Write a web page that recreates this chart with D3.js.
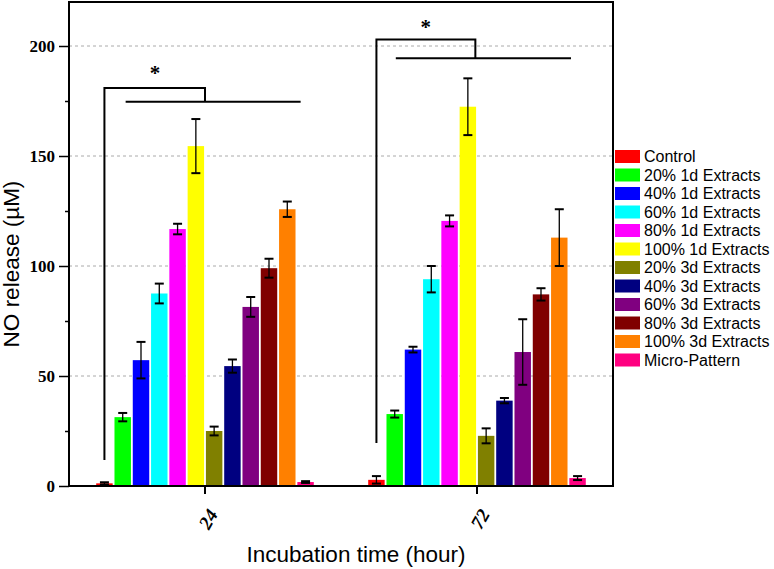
<!DOCTYPE html>
<html>
<head>
<meta charset="utf-8">
<script src="https://cdn.jsdelivr.net/npm/d3@7"></script>
<style>
  html, body { margin: 0; padding: 0; background: #fff; }
  svg { display: block; }
</style>
</head>
<body>
<svg id="chart" width="774" height="569"></svg>
<script>
// ---- Data ----
const times = ["24", "72"];
const series = ["Control", "20% 1d Extracts", "40% 1d Extracts", "60% 1d Extracts", "80% 1d Extracts",
  "100% 1d Extracts", "20% 3d Extracts", "40% 3d Extracts", "60% 3d Extracts", "80% 3d Extracts",
  "100% 3d Extracts", "Micro-Pattern"];
const colors = ["#ff0000", "#00ff00", "#0000ff", "#00ffff", "#ff00ff", "#ffff00",
  "#808000", "#000080", "#800080", "#800000", "#ff8000", "#ff0080"];
const values24 = [1.2, 31.3, 57.2, 87.5, 116.8, 154.5, 25.0, 54.5, 81.4, 99.0, 125.8, 1.8];
const errors24 = [0.5, 1.9, 8.3, 4.5, 2.4, 12.3, 2.0, 3.0, 4.5, 4.3, 3.5, 0.4];
const values72 = [2.8, 32.7, 62.0, 94.0, 120.5, 172.4, 22.8, 38.8, 60.9, 87.1, 112.9, 3.6];
const errors72 = [1.7, 1.6, 1.3, 6.0, 2.5, 12.9, 3.4, 1.2, 14.9, 2.8, 12.9, 0.9];
const yTicks = [0, 50, 100, 150, 200];
const yMinorTicks = [25, 75, 125, 175];
const gridTicks = [50, 100, 150, 200];
// significance brackets (positions in bar-index units and data units)
const brackets = [
  { time: "24", leftIdx: 0, leftLow: 11.8, top: 180.9, topIdx: 5.5, low: 174.7, lowFrom: 1.16, lowTo: 10.73, starIdx: 2.77, star: 189 },
  { time: "72", leftIdx: 0, leftLow: 19.5, top: 203.0, topIdx: 5.41, low: 194.4, lowFrom: 1.06, lowTo: 10.64, starIdx: 2.7, star: 210 }
];

const table = [];
times.forEach((t, gi) => {
  const vals = gi === 0 ? values24 : values72;
  const errs = gi === 0 ? errors24 : errors72;
  series.forEach((s, i) => table.push({ time: t, series: s, i, value: vals[i], err: errs[i], color: colors[i] }));
});

// ---- Layout ----
const svg = d3.select("#chart");
const L = 69, R = 613, T = 2, B = 486;

const x0 = d3.scaleBand().domain(times).range([L, R]).paddingInner(0.2).paddingOuter(0.1);
const x1 = d3.scaleBand().domain(series).range([0, x0.bandwidth()]).paddingInner(0.1).paddingOuter(0);
const y = d3.scaleLinear().domain([0, 220]).range([B, T]);
const pos = (t, idx) => x0(t) + x1.step() * idx + x1.bandwidth() / 2;

// gridlines
svg.append("g").selectAll("line").data(gridTicks).join("line")
  .attr("x1", L).attr("x2", R)
  .attr("y1", d => y(d)).attr("y2", d => y(d))
  .attr("stroke", "#aaaaaa").attr("stroke-width", 1).attr("stroke-dasharray", "3,3");

// bars
svg.append("g").selectAll("rect").data(table).join("rect")
  .attr("x", d => x0(d.time) + x1(d.series))
  .attr("y", d => y(d.value))
  .attr("width", x1.bandwidth())
  .attr("height", d => y(0) - y(d.value))
  .attr("fill", d => d.color);

// error bars
const eb = svg.append("g").attr("stroke", "#000");
const cap = 4.5;
eb.selectAll("line.v").data(table).join("line").attr("class", "v")
  .attr("x1", d => x0(d.time) + x1(d.series) + x1.bandwidth() / 2)
  .attr("x2", d => x0(d.time) + x1(d.series) + x1.bandwidth() / 2)
  .attr("y1", d => y(d.value + d.err)).attr("y2", d => y(Math.max(0, d.value - d.err)))
  .attr("stroke-width", 1.3);
["top", "bot"].forEach(k => {
  eb.selectAll("line." + k).data(table).join("line").attr("class", k)
    .attr("x1", d => x0(d.time) + x1(d.series) + x1.bandwidth() / 2 - cap)
    .attr("x2", d => x0(d.time) + x1(d.series) + x1.bandwidth() / 2 + cap)
    .attr("y1", d => y(k === "top" ? d.value + d.err : Math.max(0, d.value - d.err)))
    .attr("y2", d => y(k === "top" ? d.value + d.err : Math.max(0, d.value - d.err)))
    .attr("stroke-width", 2);
});

// significance brackets
const bg = svg.append("g").attr("stroke", "#000").attr("stroke-width", 2).attr("fill", "none");
brackets.forEach(b => {
  const xl = pos(b.time, b.leftIdx), xt = pos(b.time, b.topIdx);
  bg.append("path")
    .attr("d", `M${xl},${y(b.leftLow)}V${y(b.top)}H${xt}V${y(b.low)}`)
    .attr("stroke-linejoin", "miter");
  bg.append("line")
    .attr("x1", pos(b.time, b.lowFrom)).attr("x2", pos(b.time, b.lowTo))
    .attr("y1", y(b.low)).attr("y2", y(b.low));
  svg.append("text")
    .attr("x", pos(b.time, b.starIdx)).attr("y", y(b.star) + 10)
    .attr("text-anchor", "middle")
    .attr("font-family", "'Liberation Serif', 'Times New Roman', serif")
    .attr("font-weight", "bold")
    .attr("font-size", 21).attr("fill", "#000")
    .text("*");
});

// Y axis
const yAxis = svg.append("g").attr("transform", `translate(${L},0)`);
yAxis.call(d3.axisLeft(y).tickValues(yTicks).tickSize(10).tickPadding(4).tickFormat(d3.format("d")));
yAxis.select(".domain").remove();
yAxis.selectAll(".tick line").attr("stroke", "#000").attr("stroke-width", 1.5);
yAxis.selectAll(".tick text")
  .attr("font-family", "'Liberation Serif', 'Times New Roman', serif")
  .attr("font-weight", "bold").attr("font-size", 17).attr("fill", "#000");
const yMinor = svg.append("g").attr("transform", `translate(${L},0)`);
yMinor.call(d3.axisLeft(y).tickValues(yMinorTicks).tickSize(4).tickFormat(""));
yMinor.select(".domain").remove();
yMinor.selectAll(".tick line").attr("stroke", "#000").attr("stroke-width", 1.5);

// X axis
const xAxis = svg.append("g").attr("transform", `translate(0,${B})`);
xAxis.call(d3.axisBottom(x0).tickSize(8).tickFormat(""));
xAxis.select(".domain").remove();
xAxis.selectAll(".tick line").attr("stroke", "#000").attr("stroke-width", 2);
svg.append("g").selectAll("text").data(times).join("text")
  .attr("transform", d => `translate(${x0(d) + x0.bandwidth() / 2 + 3},${B + 33}) rotate(-60)`)
  .attr("text-anchor", "middle")
  .attr("dominant-baseline", "central")
  .attr("font-family", "'Liberation Serif', 'Times New Roman', serif")
  .attr("font-weight", "bold").attr("font-style", "italic").attr("font-size", 19).attr("fill", "#000")
  .text(d => d);

// frame
svg.append("rect")
  .attr("x", L).attr("y", T).attr("width", R - L).attr("height", B - T)
  .attr("fill", "none").attr("stroke", "#000").attr("stroke-width", 2);

// axis titles
svg.append("text")
  .attr("x", (L + R) / 2 + 15).attr("y", 562)
  .attr("text-anchor", "middle")
  .attr("font-family", "'Liberation Sans', Arial, sans-serif")
  .attr("font-size", 22.5).attr("fill", "#000")
  .text("Incubation time (hour)");
svg.append("text")
  .attr("transform", `translate(19,${(T + B) / 2 + 20}) rotate(-90)`)
  .attr("text-anchor", "middle")
  .attr("font-family", "'Liberation Sans', Arial, sans-serif")
  .attr("font-size", 22.5).attr("fill", "#000")
  .text("NO release (\u00b5M)");

// legend
const lg = svg.append("g").attr("transform", "translate(615,150)");
const rows = lg.selectAll("g").data(series).join("g")
  .attr("transform", (d, i) => `translate(0,${i * 18.5})`);
rows.append("rect").attr("width", 25).attr("height", 13).attr("fill", (d, i) => colors[i]);
rows.append("text").attr("x", 29).attr("y", 12)
  .attr("font-family", "'Liberation Sans', Arial, sans-serif")
  .attr("font-size", 16).attr("fill", "#000")
  .text(d => d);
</script>
</body>
</html>
